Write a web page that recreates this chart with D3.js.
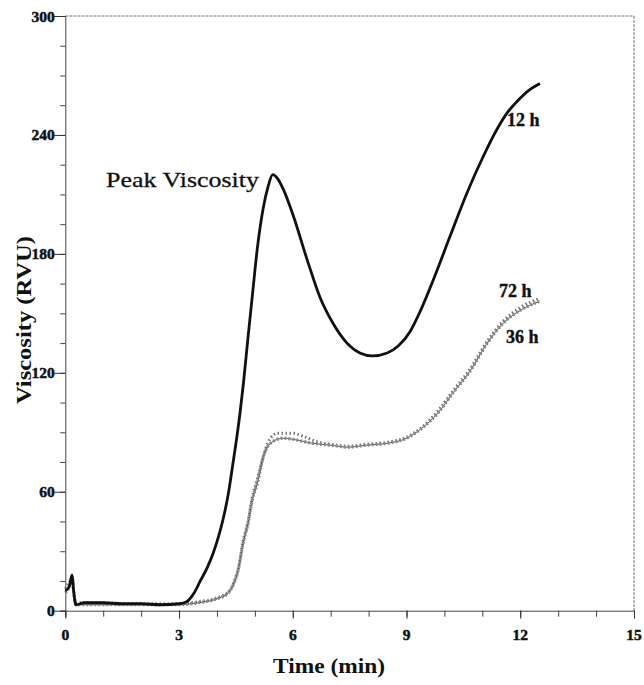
<!DOCTYPE html>
<html>
<head>
<meta charset="utf-8">
<script src="https://cdn.jsdelivr.net/npm/d3@7"></script>
<style>
  html, body { margin: 0; padding: 0; background: #fff; }
  svg { display: block; }
  text { font-family: "Liberation Serif", "Times New Roman", serif; fill: #111; }
</style>
</head>
<body>
<div id="chart"></div>
<script>
// ---- data ----
const xTicks = [0, 3, 6, 9, 12, 15];
const yTicks = [0, 60, 120, 180, 240, 300];

const t12 = [0, 0.1, 0.18, 0.22, 0.28, 0.5, 1, 1.5, 2, 2.5, 3, 3.2, 3.4, 3.56, 3.75, 3.9, 4.05, 4.16, 4.3, 4.42, 4.52, 4.61, 4.7, 4.82, 4.95, 5.06, 5.22, 5.35, 5.47, 5.6, 5.74, 6.0, 6.38, 6.72, 7.06, 7.43, 7.77, 8.1, 8.49, 8.78, 9.1, 9.36, 9.75, 10.15, 10.6, 11.02, 11.39, 11.65, 11.92, 12.26, 12.52];
const v12 = [10, 12, 18, 10, 3, 4, 4, 3.5, 3.5, 3, 3.5, 4.5, 9, 15, 22, 29, 38, 46, 59, 74, 87, 100, 115, 138, 162, 182, 203, 214, 220, 218, 213, 200, 177, 158, 145, 135, 130, 128.5, 130, 133.5, 141, 151, 169, 189, 211, 229, 243, 251, 257, 263, 266];

const t36 = [0, 0.1, 0.18, 0.22, 0.28, 0.5, 1, 1.5, 2, 2.5, 3, 3.5, 4.0, 4.3, 4.45, 4.56, 4.69, 4.82, 4.93, 5.06, 5.22, 5.45, 5.74, 6.0, 6.5, 7.0, 7.45, 7.95, 8.5, 9.0, 9.4, 9.84, 10.23, 10.68, 11.13, 11.55, 12.0, 12.5];
const v36 = [9, 12, 17, 10, 3, 3, 3, 3, 3, 3, 3, 4, 6, 9, 14, 20.5, 34, 44, 55.8, 64, 77.5, 85, 87, 86.5, 84.5, 83.5, 82.5, 83.5, 84.5, 87, 92, 100, 110, 121, 135, 145, 151.5, 156];

const t72 = [0, 0.1, 0.18, 0.22, 0.28, 0.5, 1, 1.5, 2, 2.5, 3, 3.5, 4.0, 4.3, 4.45, 4.56, 4.69, 4.82, 4.93, 5.06, 5.2, 5.35, 5.6, 5.98, 6.28, 6.6, 7.0, 7.45, 7.95, 8.5, 9.0, 9.4, 9.84, 10.23, 10.68, 11.13, 11.55, 12.0, 12.5];
const v72 = [11, 14, 16, 9, 4, 4, 4, 3.5, 3.5, 3.5, 3.5, 4.5, 6.5, 9.5, 14.5, 21, 35, 45, 57, 66, 76, 85, 89.5, 89.5, 88, 85.5, 84, 83, 84, 85, 87.5, 92.5, 101, 111, 122, 136, 146, 153, 157.5];

const seriesLabels = ["12 h", "36 h", "72 h"];
const peakLabel = "Peak Viscosity";
const xTitle = "Time (min)";
const yTitle = "Viscosity (RVU)";

// ---- layout ----
const W = 644, H = 685;
const mLeft = 65.3, mRight = 634, mTop = 16, mBottom = 610.7;

const svg = d3.select("#chart").append("svg").attr("width", W).attr("height", H);

const x = d3.scaleLinear().domain([0, 15]).range([mLeft, mRight]);
const y = d3.scaleLinear().domain([0, 300]).range([mBottom, mTop]);

// frame (top and right)
svg.append("line").attr("x1", mLeft).attr("x2", mRight).attr("y1", mTop).attr("y2", mTop)
  .attr("stroke", "#777").attr("stroke-width", 1).attr("stroke-dasharray", "3,1");
svg.append("line").attr("x1", mRight).attr("x2", mRight).attr("y1", mTop).attr("y2", mBottom)
  .attr("stroke", "#777").attr("stroke-width", 1).attr("stroke-dasharray", "3,1");

// axis title (y) drawn first so tick labels sit on top
svg.append("text").attr("transform", "translate(31,320) rotate(-90)").attr("text-anchor", "middle")
  .style("font-weight", "bold").style("font-size", "21px")
  .attr("textLength", 168).attr("lengthAdjust", "spacingAndGlyphs").text(yTitle);

// x axis (ticks only; labels drawn separately)
const gx = svg.append("g").attr("transform", `translate(0,${mBottom})`);
gx.call(d3.axisBottom(x).tickValues(d3.range(0, 16, 1)).tickSize(6).tickFormat(""))
  .call(g => g.select(".domain").attr("stroke", "#444"))
  .call(g => g.selectAll(".tick line").attr("stroke", "#444"));
const gx2 = svg.append("g").attr("transform", `translate(0,${mBottom})`);
gx2.call(d3.axisBottom(x).tickValues(xTicks).tickSize(8).tickFormat(""))
  .call(g => g.select(".domain").remove())
  .call(g => g.selectAll(".tick line").attr("stroke", "#333"));

// y axis
const gy = svg.append("g").attr("transform", `translate(${mLeft},0)`);
gy.call(d3.axisLeft(y).tickValues(d3.range(0, 301, 15)).tickSize(5).tickFormat(""))
  .call(g => g.select(".domain").attr("stroke", "#444"))
  .call(g => g.selectAll(".tick line").attr("stroke", "#444"));
const gy2 = svg.append("g").attr("transform", `translate(${mLeft},0)`);
gy2.call(d3.axisLeft(y).tickValues(yTicks).tickSize(11).tickFormat(""))
  .call(g => g.select(".domain").remove())
  .call(g => g.selectAll(".tick line").attr("stroke", "#333"));

// tick labels (bold serif)
const tickFont = { "font-weight": "bold", "font-size": "15.5px", "stroke": "#111", "stroke-width": "0.5px" };
const applyFont = sel => { for (const k in tickFont) sel.style(k, tickFont[k]); return sel; };
applyFont(svg.append("g").selectAll("text").data(xTicks).join("text")
  .attr("x", d => x(d)).attr("y", mBottom + 29).attr("text-anchor", "middle").text(d => d));
applyFont(svg.append("g").selectAll("text").data(yTicks).join("text")
  .attr("x", mLeft - 10.5).attr("y", d => y(d) + 5.5).attr("text-anchor", "end").text(d => d));

// ---- lines ----
const line = d3.line().x(d => x(d[0])).y(d => y(d[1])).curve(d3.curveMonotoneX);
const d12 = t12.map((t, i) => [t, v12[i]]);
const d36 = t36.map((t, i) => [t, v36[i]]);
const d72 = t72.map((t, i) => [t, v72[i]]);

// 72 h: textured marker-like stroke
svg.append("path").datum(d72).attr("d", line).attr("fill", "none")
  .attr("stroke", "#777").attr("stroke-width", 3).attr("stroke-dasharray", "1.5,2.5");
// 36 h: thin line with marker texture
svg.append("path").datum(d36).attr("d", line).attr("fill", "none")
  .attr("stroke", "#555").attr("stroke-width", 1);
svg.append("path").datum(d36).attr("d", line).attr("fill", "none")
  .attr("stroke", "#888").attr("stroke-width", 3.2).attr("stroke-dasharray", "2,2");
// 12 h: thick black
svg.append("path").datum(d12).attr("d", line).attr("fill", "none")
  .attr("stroke", "#111").attr("stroke-width", 2.8).attr("stroke-linejoin", "round");

// ---- labels ----
const boldLabel = (xp, yp, s) => svg.append("text").attr("x", xp).attr("y", yp)
  .style("font-weight", "bold").style("font-size", "18px")
  .style("stroke", "#111").style("stroke-width", "0.4px").text(s);
boldLabel(507, 126, seriesLabels[0]);
boldLabel(506, 343, seriesLabels[1]);
boldLabel(499, 297, seriesLabels[2]);

svg.append("text").attr("x", 106).attr("y", 187).style("font-size", "22px")
  .style("stroke", "#111").style("stroke-width", "0.3px")
  .attr("textLength", 153).attr("lengthAdjust", "spacingAndGlyphs").text(peakLabel);

svg.append("text").attr("x", 329).attr("y", 673).attr("text-anchor", "middle")
  .style("font-weight", "bold").style("font-size", "21px")
  .attr("textLength", 112).attr("lengthAdjust", "spacingAndGlyphs").text(xTitle);
</script>
</body>
</html>
